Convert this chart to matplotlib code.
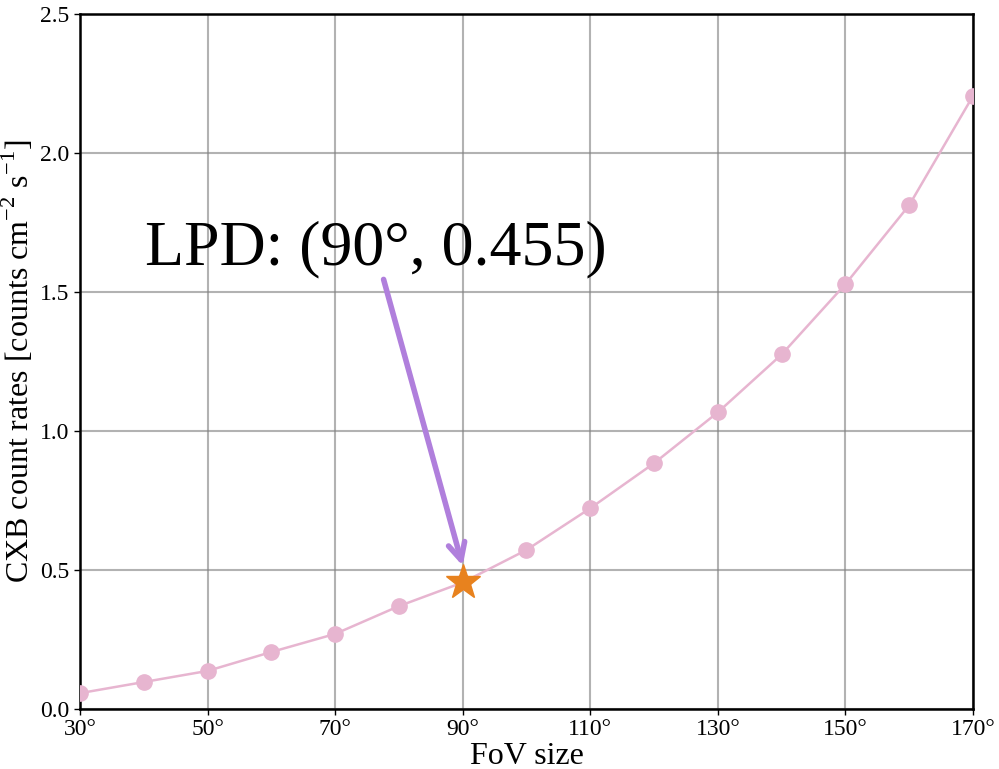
import matplotlib
matplotlib.use("Agg")
import matplotlib.pyplot as plt
import numpy as np

# FoV sizes (degrees) and CXB count rates
fov = [30, 40, 50, 60, 70, 80, 90, 100, 110, 120, 130, 140, 150, 160, 170]
rates = [0.057, 0.097, 0.137, 0.205, 0.270, 0.370, 0.455, 0.572, 0.722,
         0.884, 1.067, 1.275, 1.528, 1.812, 2.205]
lpd_fov = 90
lpd_rate = 0.455
xticks = [30, 50, 70, 90, 110, 130, 150, 170]
yticks = [0.0, 0.5, 1.0, 1.5, 2.0, 2.5]

plt.rcParams['font.family'] = ['Liberation Serif', 'DejaVu Serif']
plt.rcParams['mathtext.fontset'] = 'custom'
plt.rcParams['mathtext.rm'] = 'Liberation Serif'

fig = plt.figure(figsize=(9.99, 7.69), dpi=100)
ax = fig.add_axes([0.080, 0.078, 0.894, 0.904])

ax.plot(fov, rates, '-o', color='#e7b5d0', lw=1.8, ms=11, zorder=3)
ax.plot(lpd_fov, lpd_rate, '*', color='#e8821e', ms=26, zorder=5)

# arrow + label for the LPD point
ax.annotate('', xy=(lpd_fov, 0.515), xytext=(77.6, 1.545),
            arrowprops=dict(arrowstyle='->', color='#b07fdc', lw=4,
                            mutation_scale=30, shrinkA=0, shrinkB=0),
            zorder=4)
ax.text(76.4, 1.6, 'LPD: (90°, 0.455)', fontsize=46, ha='center',
        va='baseline', zorder=6)

ax.set_xlim(30, 170)
ax.set_ylim(0, 2.5)
ax.set_xticks(xticks)
ax.set_xticklabels([f'{t}°' for t in xticks])
ax.set_yticks(yticks)
ax.tick_params(labelsize=17, length=4, width=1)
ax.grid(True, color='gray', alpha=0.6, lw=1.5)
ax.set_axisbelow(True)
for s in ax.spines.values():
    s.set_linewidth(1.8)

ax.set_xlabel('FoV size', fontsize=23, labelpad=1)
ax.set_ylabel(r'CXB count rates [counts cm$^{-2}$ s$^{-1}$]', fontsize=23,
              labelpad=3)

fig.savefig('out.png', dpi=100)
